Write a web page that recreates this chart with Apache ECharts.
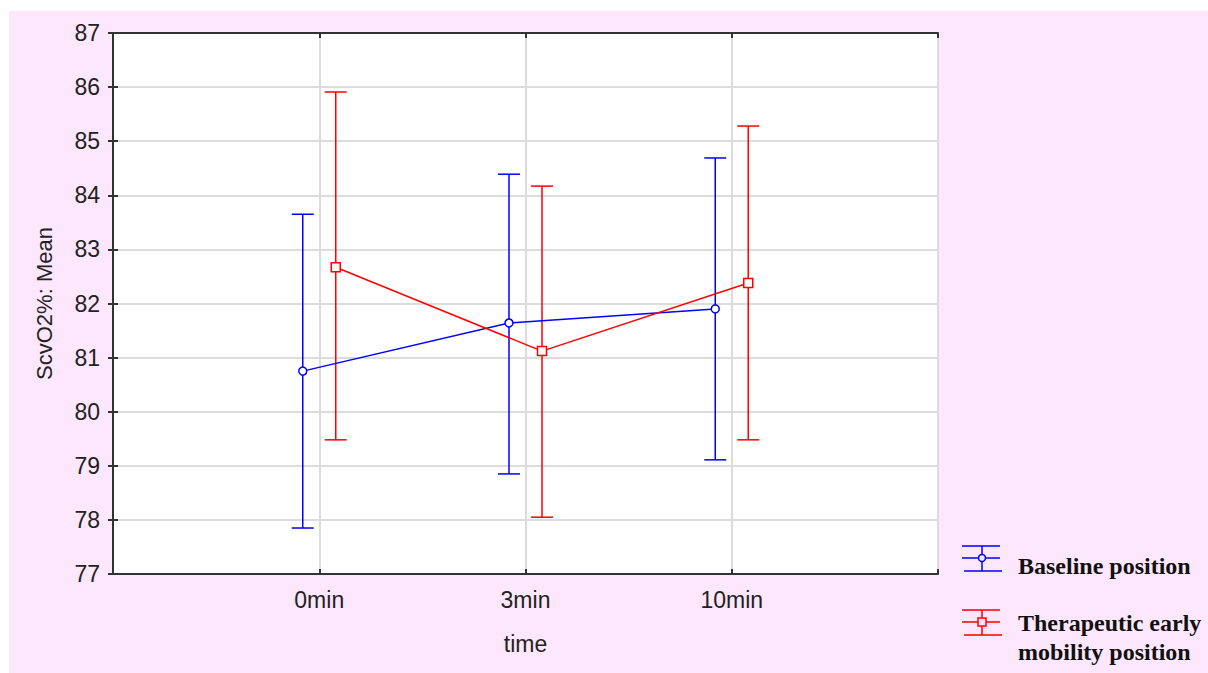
<!DOCTYPE html>
<html>
<head>
<meta charset="utf-8">
<script src="https://cdn.jsdelivr.net/npm/echarts@6/dist/echarts.min.js"></script>
<style>
html,body{margin:0;padding:0;background:#fff;}
#c{width:1208px;height:673px;}
</style>
</head>
<body>
<div id="c"></div>
<script>
// ---- data ----
var categories = ['0min', '3min', '10min'];
var seriesNames = ['Baseline position', 'Therapeutic early\nmobility position'];
var baselineMean = [80.75, 81.64, 81.90];
var baselineLow  = [77.85, 78.85, 79.11];
var baselineHigh = [83.65, 84.39, 84.69];
var therapMean   = [82.67, 81.12, 82.38];
var therapLow    = [79.48, 78.05, 79.48];
var therapHigh   = [85.91, 84.17, 85.28];
var yTicks = [77, 78, 79, 80, 81, 82, 83, 84, 85, 86, 87];

// ---- styling constants ----
var BLUE = '#0000ff', RED = '#ff0000';
var OFFSET = 0.08;

function pts(means, off) {
  return means.map(function (v, i) { return [i + 1 + off, v]; });
}
function bars(low, high, off) {
  return low.map(function (v, i) { return [i + 1 + off, v, high[i]]; });
}
function errRender(color) {
  return function (params, api) {
    var x = api.value(0);
    var lo = api.coord([x, api.value(1)]);
    var hi = api.coord([x, api.value(2)]);
    var hw = 11;
    var st = { stroke: color, lineWidth: 1.5 };
    return {
      type: 'group',
      children: [
        { type: 'line', shape: { x1: lo[0], y1: lo[1], x2: hi[0], y2: hi[1] }, style: st },
        { type: 'line', shape: { x1: lo[0] - hw, y1: lo[1], x2: lo[0] + hw, y2: lo[1] }, style: st },
        { type: 'line', shape: { x1: hi[0] - hw, y1: hi[1], x2: hi[0] + hw, y2: hi[1] }, style: st }
      ]
    };
  };
}

// legend drawn as graphic: icon (error-bar glyph) + label
function legendIcon(x, yc, color, marker) {
  var st = { stroke: color, lineWidth: 1.5, fill: null };
  var kids = [
    { type: 'line', shape: { x1: x, y1: yc - 12, x2: x + 38, y2: yc - 12 }, style: st },
    { type: 'line', shape: { x1: x, y1: yc, x2: x + 38, y2: yc }, style: st },
    { type: 'line', shape: { x1: x + 2, y1: yc + 13, x2: x + 40, y2: yc + 13 }, style: st },
    { type: 'line', shape: { x1: x + 20, y1: yc - 12, x2: x + 20, y2: yc + 13 }, style: st }
  ];
  if (marker === 'circle') {
    kids.push({ type: 'circle', shape: { cx: x + 20, cy: yc, r: 3.5 }, style: { stroke: color, lineWidth: 1.5, fill: '#fde7fc' } });
  } else {
    kids.push({ type: 'rect', shape: { x: x + 16, y: yc - 4, width: 8, height: 8 }, style: { stroke: color, lineWidth: 1.5, fill: '#fde7fc' } });
  }
  return { type: 'group', silent: true, children: kids };
}
var legendFont = 'bold 24px "Liberation Serif", "Times New Roman", serif';

var chart = echarts.init(document.getElementById('c'), null, { renderer: 'svg' });
var axisCol = '#333';
var sans = 'Liberation Sans, Arial, sans-serif';
var labelFont = { color: '#222', fontFamily: sans, fontSize: 23 };

chart.setOption({
  backgroundColor: '#ffffff',
  animation: false,
  graphic: [
    { type: 'rect', z: -10, silent: true, shape: { x: 9, y: 11, width: 1199, height: 662 }, style: { fill: '#fde7fc' } },
    legendIcon(962, 558, BLUE, 'circle'),
    legendIcon(962, 622, RED, 'rect'),
    { type: 'text', silent: true, left: 1018, top: 551,
      style: { text: seriesNames[0], font: legendFont, fill: '#111', lineHeight: 29 } },
    { type: 'text', silent: true, left: 1018, top: 608,
      style: { text: seriesNames[1], font: legendFont, fill: '#111', lineHeight: 29 } }
  ],
  grid: { left: 113, top: 33, right: 270, bottom: 99, show: true, backgroundColor: '#ffffff', borderWidth: 0 },
  xAxis: [{
    type: 'value', min: 0, max: 4, interval: 1,
    name: 'time', nameLocation: 'middle', nameGap: 58,
    nameTextStyle: { color: '#222', fontFamily: sans, fontSize: 23 },
    axisLine: { show: true, lineStyle: { color: axisCol, width: 2 } },
    axisTick: { show: true, inside: true, length: 5, lineStyle: { color: axisCol, width: 2 } },
    axisLabel: Object.assign({ margin: 14, formatter: function (v) { return categories[v - 1] || ''; } }, labelFont),
    splitLine: { show: true, lineStyle: { color: '#dcdcdc', width: 2 } }
  }, {
    type: 'value', min: 0, max: 4, interval: 1, position: 'top',
    axisLine: { show: true, lineStyle: { color: axisCol, width: 2 } },
    axisTick: { show: true, inside: true, length: 5, lineStyle: { color: axisCol, width: 2 } },
    axisLabel: { show: false }, splitLine: { show: false }
  }],
  yAxis: [{
    type: 'value', min: yTicks[0], max: yTicks[yTicks.length - 1], interval: 1,
    name: 'ScvO2%: Mean', nameLocation: 'middle', nameGap: 58,
    nameTextStyle: { color: '#222', fontFamily: sans, fontSize: 22 },
    axisLine: { show: true, lineStyle: { color: axisCol, width: 2 } },
    axisTick: { show: true, inside: true, length: 5, lineStyle: { color: axisCol, width: 2 } },
    axisLabel: Object.assign({ margin: 13 }, labelFont),
    splitLine: { show: true, lineStyle: { color: '#dcdcdc', width: 2 } }
  }, {
    type: 'value', min: yTicks[0], max: yTicks[yTicks.length - 1], interval: 1, position: 'right',
    axisLine: { show: true, lineStyle: { color: axisCol, width: 2 } },
    axisTick: { show: true, inside: true, length: 5, lineStyle: { color: axisCol, width: 2 } },
    axisLabel: { show: false }, splitLine: { show: false }
  }],
  series: [
    { type: 'custom', name: seriesNames[0], renderItem: errRender(BLUE), data: bars(baselineLow, baselineHigh, -OFFSET),
      itemStyle: { color: BLUE }, z: 2, encode: { x: 0, y: [1, 2] } },
    { type: 'custom', name: seriesNames[1], renderItem: errRender(RED), data: bars(therapLow, therapHigh, OFFSET),
      itemStyle: { color: RED }, z: 2, encode: { x: 0, y: [1, 2] } },
    { type: 'line', name: seriesNames[0], data: pts(baselineMean, -OFFSET), symbol: 'circle', symbolSize: 8,
      itemStyle: { color: '#fff', borderColor: BLUE, borderWidth: 1.5 }, lineStyle: { color: BLUE, width: 1.5 }, z: 3 },
    { type: 'line', name: seriesNames[1], data: pts(therapMean, OFFSET), symbol: 'rect', symbolSize: 9,
      itemStyle: { color: '#fff', borderColor: RED, borderWidth: 1.5 }, lineStyle: { color: RED, width: 1.5 }, z: 3 }
  ]
});
</script>
</body>
</html>
